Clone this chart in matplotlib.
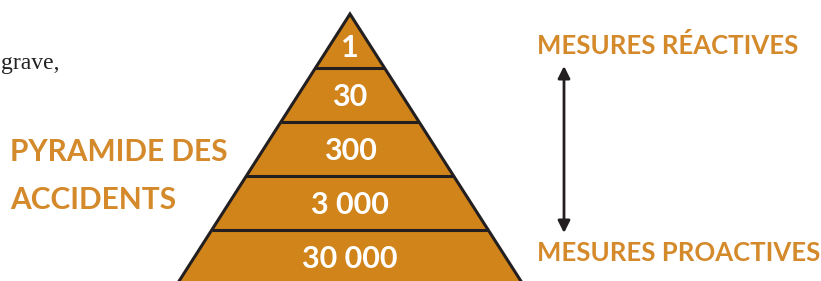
import matplotlib.pyplot as plt
from matplotlib.patches import Polygon

# pyramid levels, top to bottom
levels = ["1", "30", "300", "3 000", "30 000"]
title_lines = ["PYRAMIDE DES", "ACCIDENTS"]
top_label = "MESURES RÉACTIVES"
bottom_label = "MESURES PROACTIVES"

orange = "#d0841a"
text_orange = "#d4892a"
dark = "#231f20"

fig = plt.figure(figsize=(8.21, 2.81), dpi=100)
ax = fig.add_axes([0, 0, 1, 1])
ax.set_xlim(0, 821)
ax.set_ylim(281, 0)
ax.axis("off")

# pyramid geometry (pixels)
apex_x, apex_y = 350, 14
band_h = 54
slope = 0.64  # half-width per pixel of height

def half_w(y):
    return (y - apex_y) * slope

for i, lab in enumerate(levels):
    y0 = apex_y + i * band_h
    y1 = y0 + band_h
    pts = [(apex_x - half_w(y0), y0), (apex_x + half_w(y0), y0),
           (apex_x + half_w(y1), y1), (apex_x - half_w(y1), y1)]
    ax.add_patch(Polygon(pts, closed=True, facecolor=orange, edgecolor="none"))
    if i > 0:
        ax.plot([apex_x - half_w(y0), apex_x + half_w(y0)], [y0, y0],
                color=dark, lw=2.2, solid_capstyle="butt")
    ax.text(apex_x, y0 + band_h / 2 + 2 if i else y0 + 34, lab, color="white",
            ha="center", va="center", fontsize=22, family="Lato",
            fontweight="bold")

# outline sides
y_end = apex_y + len(levels) * band_h
ax.plot([apex_x - half_w(y_end), apex_x, apex_x + half_w(y_end)],
        [y_end, apex_y, y_end], color=dark, lw=2.2, solid_joinstyle="miter")

# left title
for j, t in enumerate(title_lines):
    ax.text(10, 152 + j * 48, t, color=text_orange, ha="left", va="center",
            fontsize=21.5, family="Lato", fontweight="bold")

# right labels and arrow
ax.text(537, 46, top_label, color=text_orange, ha="left", va="center",
        fontsize=18.5, family="Lato", fontweight="bold")
ax.text(537, 253, bottom_label, color=text_orange, ha="left", va="center",
        fontsize=18.5, family="Lato", fontweight="bold")
ax.annotate("", xy=(564, 66), xytext=(564, 233),
            arrowprops=dict(arrowstyle="<|-|>", color=dark, lw=2,
                            mutation_scale=18, shrinkA=0, shrinkB=0))

# leftover text from surrounding page
ax.text(1, 63, "grave,", color="#222222", ha="left", va="center",
        fontsize=17, family="Liberation Serif")

fig.savefig("out.png", dpi=100)
